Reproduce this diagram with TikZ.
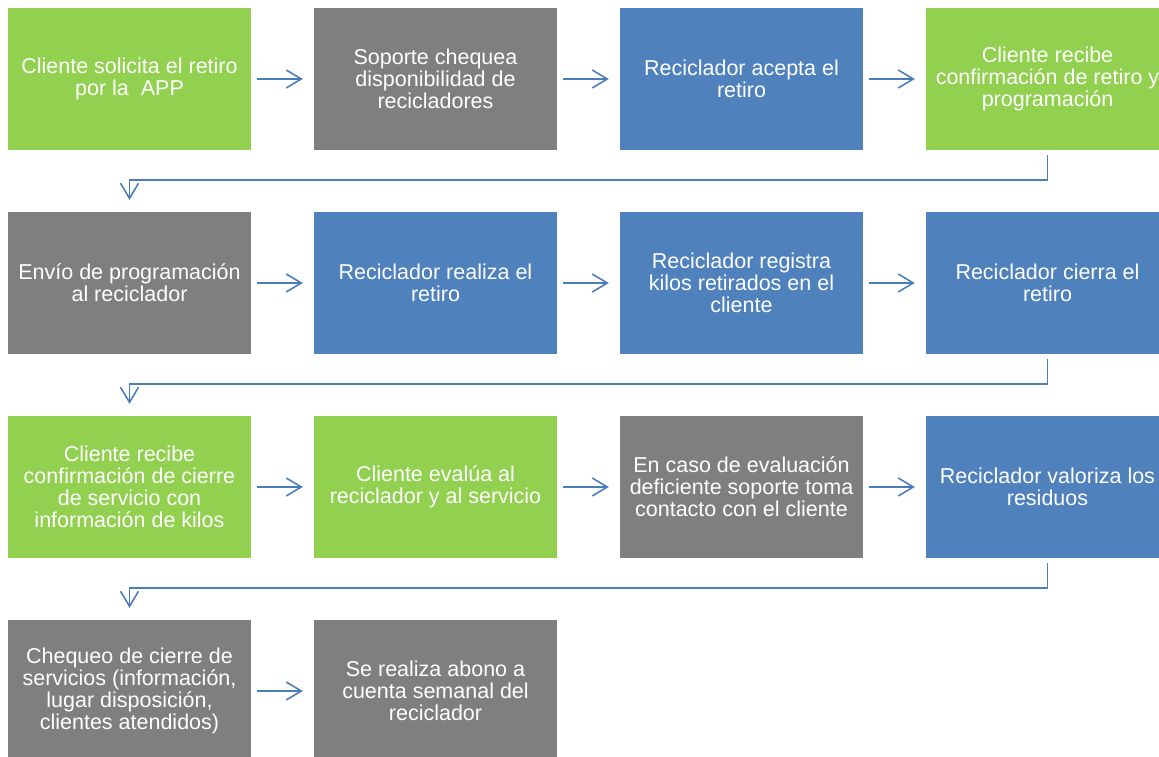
\documentclass[tikz,border=0pt]{standalone}
\usepackage{fontspec}
\setmainfont{Liberation Sans}
\usetikzlibrary{arrows.meta}

\definecolor{verde}{rgb}{0.572549, 0.815686, 0.313725}
\definecolor{gris}{rgb}{0.498039, 0.498039, 0.498039}
\definecolor{azul}{rgb}{0.309804, 0.505882, 0.741176}
\definecolor{flechacolor}{rgb}{0.290196, 0.494118, 0.733333}

\tikzset{
  caja/.style={minimum width=243pt, minimum height=142pt, inner sep=0pt,
    align=center, text=white, font=\fontsize{21.5}{22}\selectfont},
  cajaverde/.style={caja, fill=verde},
  cajagris/.style={caja, fill=gris},
  cajaazul/.style={caja, fill=azul},
  flecha/.style={draw=flechacolor, line width=1.6pt,
    -{Straight Barb[length=15pt,width=18pt,line width=1.6pt]}},
  paso/.style={flecha, shorten <=6pt, shorten >=11pt},
  bajada/.style={flecha, shorten <=5pt, shorten >=12pt}
}

\begin{document}
\begin{tikzpicture}[x=1pt,y=-1pt]
\useasboundingbox (0,0) rectangle (1159,757);
% fila 1
\node[cajaverde] (a1) at (129.5,79) {Cliente solicita el retiro\\por la \ APP};
\node[cajagris] (a2) at (435.5,79) {Soporte chequea\\disponibilidad de\\recicladores};
\node[cajaazul] (a3) at (741.5,79) {Reciclador acepta el\\retiro};
\node[cajaverde] (a4) at (1047.5,79) {Cliente recibe\\confirmación de retiro y\\programación};
% fila 2
\node[cajagris] (b1) at (129.5,283) {Envío de programación\\al reciclador};
\node[cajaazul] (b2) at (435.5,283) {Reciclador realiza el\\retiro};
\node[cajaazul] (b3) at (741.5,283) {Reciclador registra\\kilos retirados en el\\cliente};
\node[cajaazul] (b4) at (1047.5,283) {Reciclador cierra el\\retiro};
% fila 3
\node[cajaverde] (c1) at (129.5,487) {Cliente recibe\\confirmación de cierre\\de servicio con\\información de kilos};
\node[cajaverde] (c2) at (435.5,487) {Cliente evalúa al\\reciclador y al servicio};
\node[cajagris] (c3) at (741.5,487) {En caso de evaluación\\deficiente soporte toma\\contacto con el cliente};
\node[cajaazul] (c4) at (1047.5,487) {Reciclador valoriza los\\residuos};
% fila 4
\node[cajagris] (d1) at (129.5,691) {Chequeo de cierre de\\servicios (información,\\lugar disposición,\\clientes atendidos)};
\node[cajagris] (d2) at (435.5,691) {Se realiza abono a\\cuenta semanal del\\reciclador};

% flechas
\draw[paso] (a1.east) -- (a2.west);
\draw[paso] (a2.east) -- (a3.west);
\draw[paso] (a3.east) -- (a4.west);
\draw[bajada] (a4.south) -- ++(0,30) -| (b1.north);
\draw[paso] (b1.east) -- (b2.west);
\draw[paso] (b2.east) -- (b3.west);
\draw[paso] (b3.east) -- (b4.west);
\draw[bajada] (b4.south) -- ++(0,30) -| (c1.north);
\draw[paso] (c1.east) -- (c2.west);
\draw[paso] (c2.east) -- (c3.west);
\draw[paso] (c3.east) -- (c4.west);
\draw[bajada] (c4.south) -- ++(0,30) -| (d1.north);
\draw[paso] (d1.east) -- (d2.west);
\end{tikzpicture}
\end{document}
